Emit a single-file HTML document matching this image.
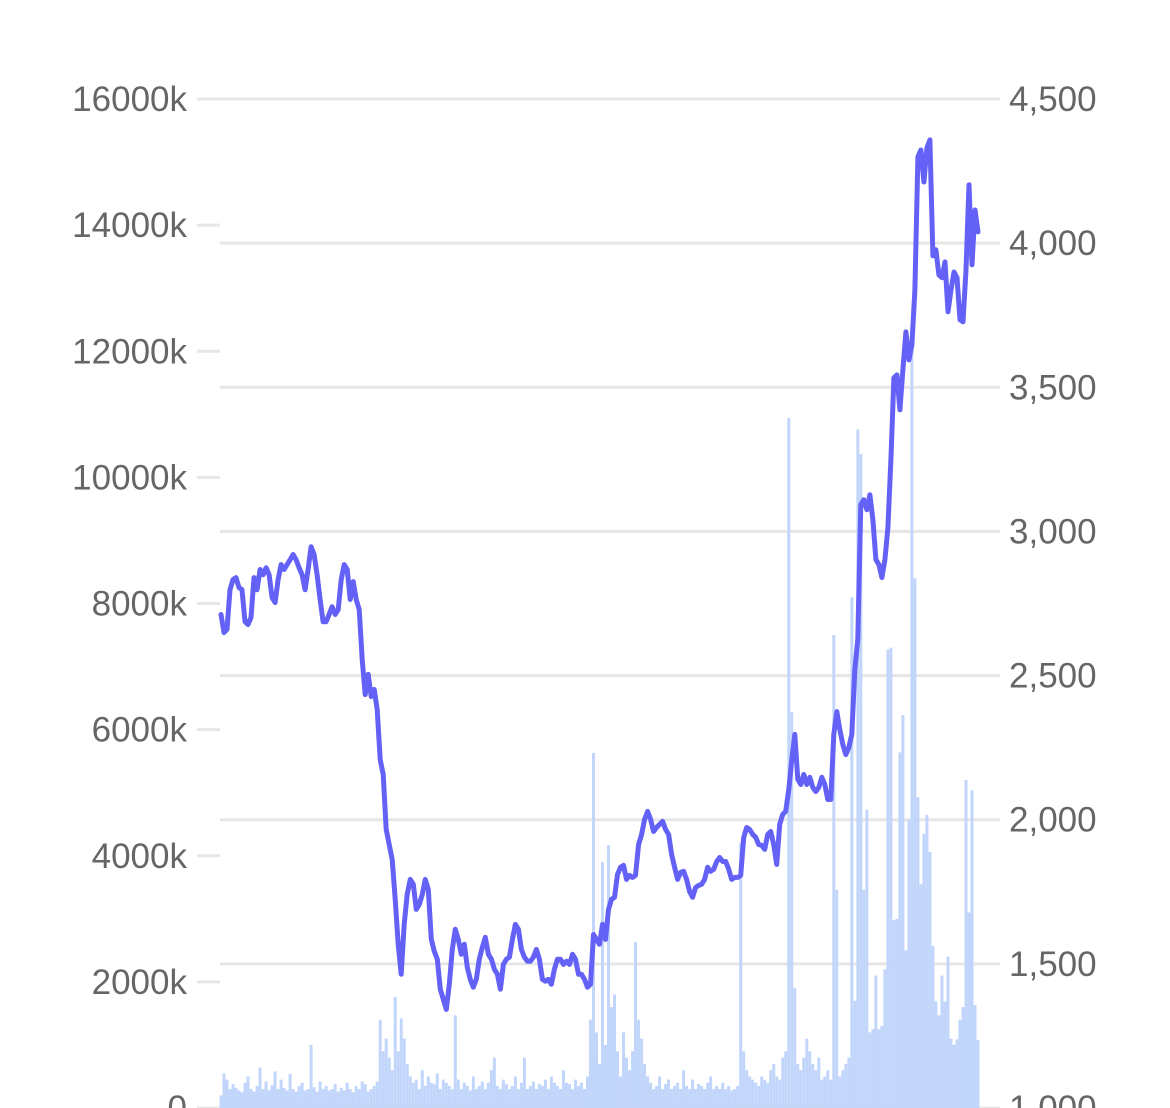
<!DOCTYPE html>
<html><head><meta charset="utf-8"><style>
html,body{margin:0;padding:0;background:#fff;width:1170px;height:1108px;overflow:hidden}
svg text{font-family:"Liberation Sans",sans-serif;font-size:35px;fill:#666}
</style></head><body>
<svg id="chart" width="1170" height="1108" xmlns="http://www.w3.org/2000/svg"></svg>
<script>
const leftTicks=[0,2000,4000,6000,8000,10000,12000,14000,16000];
const leftTickLabels=["0","2000k","4000k","6000k","8000k","10000k","12000k","14000k","16000k"];
const rightTicks=[1000,1500,2000,2500,3000,3500,4000,4500];
const rightTickLabels=["1,000","1,500","2,000","2,500","3,000","3,500","4,000","4,500"];
const priceValues=[2712,2649,2660,2798,2833,2840,2805,2798,2687,2677,2701,2840,2798,2868,2850,2874,2850,2770,2753,2833,2885,2868,2885,2902,2920,2902,2874,2850,2798,2868,2947,2920,2850,2764,2687,2687,2712,2739,2712,2729,2833,2885,2868,2764,2826,2764,2729,2556,2434,2504,2427,2452,2382,2209,2157,1966,1914,1862,1724,1568,1464,1637,1741,1793,1776,1689,1706,1741,1793,1758,1585,1544,1516,1412,1377,1342,1429,1550,1620,1585,1533,1568,1488,1446,1419,1446,1516,1557,1592,1533,1516,1481,1464,1412,1498,1516,1523,1585,1637,1620,1550,1523,1509,1509,1523,1550,1516,1446,1440,1446,1429,1481,1516,1516,1498,1509,1498,1533,1516,1464,1464,1446,1419,1429,1602,1585,1568,1637,1585,1689,1724,1731,1810,1835,1842,1793,1807,1800,1807,1914,1949,2001,2029,2001,1959,1973,1984,1994,1966,1949,1880,1835,1793,1817,1821,1793,1751,1731,1765,1772,1776,1793,1835,1821,1828,1855,1869,1855,1855,1828,1793,1800,1800,1807,1939,1973,1966,1949,1939,1914,1911,1897,1949,1959,1914,1845,1984,2018,2029,2105,2209,2296,2140,2122,2157,2122,2147,2112,2098,2112,2147,2122,2070,2070,2296,2375,2313,2261,2226,2250,2296,2521,2625,3093,3110,3075,3127,3040,2902,2885,2840,2902,3013,3249,3533,3543,3422,3561,3692,3595,3647,3838,4299,4323,4212,4330,4358,3956,3977,3890,3880,3935,3762,3838,3900,3880,3734,3727,3907,4202,3925,4115,4039];
const volumeValues=[200,550,450,300,380,320,280,250,400,500,300,260,350,640,300,420,280,360,580,300,450,320,280,540,300,260,350,400,280,300,1000,330,260,420,300,350,280,300,380,260,320,280,400,300,250,350,300,420,380,260,300,350,420,
1400,900,1100,800,600,1760,900,1420,1100,700,500,
400,450,300,600,350,500,400,380,550,300,450,400,350,300,1470,
450,300,400,350,280,500,300,350,420,300,400,600,800,350,300,450,380,300,350,500,300,400,800,300,350,420,300,380,350,450,300,500,400,350,300,600,400,380,300,450,350,400,300,500,
1400,5630,1200,700,3900,1000,4170,1600,1800,900,500,1200,800,600,900,2630,1400,1100,700,500,
400,300,350,500,300,380,450,300,350,400,300,600,350,300,450,300,380,350,300,400,500,300,350,300,400,300,350,280,300,350,
4200,900,600,500,450,400,350,500,450,400,600,700,500,450,800,900,
10940,6280,1900,700,600,800,1100,900,700,600,800,450,500,600,
450,7500,3460,500,600,700,800,8100,1700,10760,10370,3460,4730,1200,1250,2100,1250,1300,2200,7270,7300,2980,3000,5640,6230,2500,4570,12340,8400,4930,3550,4350,4650,4060,2570,1690,1470,2100,1690,2400,1100,1000,1090,1400,1600,5200,3100,5040,1630,1080];

const NS="http://www.w3.org/2000/svg";
const svg=document.getElementById('chart');
const X0=221,X1=978,YT=99,YB=1108;
const yL=v=>YB-(v/16000)*(YB-YT);
const yR=v=>YB-((v-1000)/3500)*(YB-YT);
const xIdx=(i,n)=>X0+(X1-X0)*i/(n-1);
function mk(tag,attrs){const e=document.createElementNS(NS,tag);for(const k in attrs)e.setAttribute(k,attrs[k]);svg.appendChild(e);return e;}

rightTicks.forEach((t,i)=>{
  const y=yR(t);
  const g=mk('line',{x1:(i===rightTicks.length-1?197:220),x2:1000,y1:y,y2:y,stroke:'#e6e6e6','stroke-width':3});
  
  
  const tx=mk('text',{x:1009,y:y+12});
  tx.textContent=rightTickLabels[i];
  
  
});
leftTicks.forEach((t,i)=>{
  const y=yL(t);
  const tk=mk('line',{x1:197,x2:220,y1:y,y2:y,stroke:'#e6e6e6','stroke-width':3});
  
  
  const tx=mk('text',{x:187,y:y+12,'text-anchor':'end'});
  tx.textContent=leftTickLabels[i];
  
  
});
const n=volumeValues.length;
const bw=(X1-X0)/(n-1);
volumeValues.forEach((v,i)=>{
  const x=xIdx(i,n);const y=yL(v);
  const r=mk('rect',{x:x-bw/2,y:y,width:bw,height:YB-y,fill:'#c2d6fb'});
  
  
});
const m=priceValues.length;
const d=priceValues.map((v,i)=>(i?'L':'M')+xIdx(i,m).toFixed(1)+','+yR(v).toFixed(1)).join('');
const p=mk('path',{d:d,fill:'none',stroke:'#6461f6','stroke-width':5,'stroke-linejoin':'round','stroke-linecap':'round'});


</script>
</body></html>
